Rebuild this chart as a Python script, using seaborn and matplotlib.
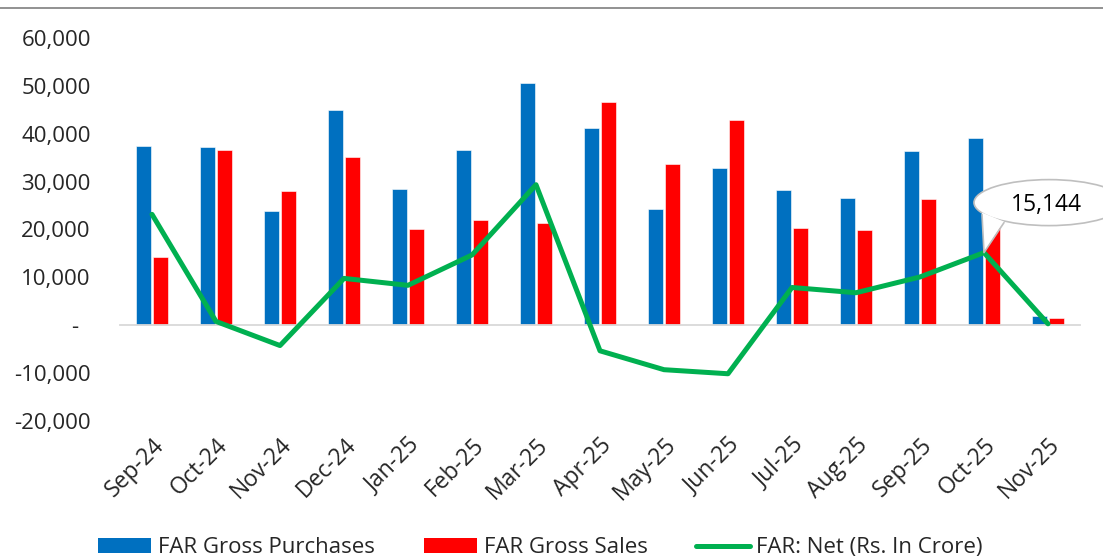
import numpy as np
import pandas as pd
import seaborn as sns
import matplotlib.pyplot as plt
import matplotlib.transforms as mtransforms
from matplotlib.patches import Ellipse, Polygon, Patch
from matplotlib.lines import Line2D
from matplotlib.ticker import FuncFormatter

# data (Rs. crore)
months = ['Sep-24', 'Oct-24', 'Nov-24', 'Dec-24', 'Jan-25', 'Feb-25', 'Mar-25', 'Apr-25',
          'May-25', 'Jun-25', 'Jul-25', 'Aug-25', 'Sep-25', 'Oct-25', 'Nov-25']
gross_purchases = [37400, 37250, 23750, 44950, 28350, 36550, 50650, 41300,
                   24250, 32750, 28200, 26500, 36450, 39050, 1950]
gross_sales = [14300, 36550, 27950, 35150, 20050, 21900, 21300, 46650,
               33600, 42900, 20350, 19800, 26350, 23900, 1550]
net = [23150, 750, -4300, 9750, 8300, 14650, 29350, -5400,
       -9350, -10200, 7850, 6750, 10050, 15144, 250]
series_names = ['FAR Gross Purchases', 'FAR Gross Sales']
net_name = 'FAR: Net (Rs. In Crore)'
callout_label = '15,144'

BLUE = '#0070C0'
RED = '#FF0000'
GREEN = '#00B050'

sns.set_style("white")
plt.rcParams['font.family'] = ['Open Sans', 'DejaVu Sans']

df = pd.DataFrame({
    'month': months * 2,
    'series': [series_names[0]] * len(months) + [series_names[1]] * len(months),
    'value': gross_purchases + gross_sales,
})

fig = plt.figure(figsize=(11.03, 5.6), dpi=100)
ax = fig.add_axes([120 / 1103, 1 - 420.6 / 560, 960 / 1103, (420.6 - 38.2) / 560])

sns.barplot(data=df, x='month', y='value', hue='series', hue_order=series_names,
            palette=[BLUE, RED], saturation=1, width=0.53, gap=0.06,
            edgecolor='white', linewidth=0.4, legend=False, ax=ax)
pos = np.arange(len(months))
sns.lineplot(x=pos, y=net, color=GREEN, linewidth=3.6, ax=ax, zorder=5)

ax.set_xlim(-0.5, len(months) - 0.5)
ax.set_ylim(-20000, 60000)
ax.set_yticks(np.arange(-20000, 60001, 10000))
ax.yaxis.set_major_formatter(FuncFormatter(lambda v, p: '-  ' if v == 0 else f'{v:,.0f}'))
ax.tick_params(axis='y', length=0, pad=21, labelsize=16)
ax.set_xlabel('')
ax.set_ylabel('')

for s in ['left', 'right', 'top']:
    ax.spines[s].set_visible(False)
ax.spines['bottom'].set_position(('data', 0))
ax.spines['bottom'].set_color('#D9D9D9')
ax.spines['bottom'].set_linewidth(1.3)
ax.spines['bottom'].set_zorder(1)

# category boundary ticks on the zero line
ax.set_xticks(pos, labels=[''] * len(months))
ax.tick_params(axis='x', which='major', length=0)
ax.set_xticks(np.arange(len(months) + 1) - 0.5, minor=True)
ax.tick_params(axis='x', which='minor', length=6, width=1.3, color='#D9D9D9', direction='out')

# month labels at the bottom of the plot area
sec = ax.secondary_xaxis('bottom')
sec.set_xticks(pos, labels=months)
sec.tick_params(length=0, pad=9, labelsize=16.5)
for lab in sec.get_xticklabels():
    lab.set_rotation(45)
    lab.set_ha('right')
    lab.set_va('top')
    lab.set_rotation_mode('anchor')
sec.spines['bottom'].set_visible(False)

# speech bubble callout for the latest net value
i = len(months) - 2
anchor = mtransforms.ScaledTranslation(pos[i], net[i], ax.transData)
tr = mtransforms.Affine2D() + anchor
bubble = Ellipse((65, 50), 150, 46, transform=tr, facecolor='white',
                 edgecolor='#BFBFBF', linewidth=1.2, clip_on=False, zorder=8)
ax.add_patch(bubble)
tail = Polygon([(-2, 40), (20, 31), (0, 0)], closed=True, transform=tr, facecolor='white',
               edgecolor='none', clip_on=False, zorder=9)
ax.add_patch(tail)
ax.add_line(Line2D([-2, 0, 20], [38, 0, 30], transform=tr, color='#BFBFBF',
                   linewidth=1.2, clip_on=False, zorder=9))
ax.annotate(callout_label, xy=(pos[i], net[i]), xytext=(62 * 0.72, 48 * 0.72),
            textcoords='offset points', ha='center', va='center', fontsize=16.5,
            color='black', zorder=10, annotation_clip=False)

# rule at top of the panel
fig.add_artist(Line2D([0, 1], [1 - 8 / 560, 1 - 8 / 560], transform=fig.transFigure,
                      color='#7F7F7F', linewidth=1.2))

handles = [Patch(facecolor=BLUE, edgecolor='none', label=series_names[0]),
           Patch(facecolor=RED, edgecolor='none', label=series_names[1]),
           Line2D([0], [0], color=GREEN, linewidth=3.6, label=net_name)]
fig.legend(handles=handles, loc='center', bbox_to_anchor=(0.49, 0.022), ncol=3,
           frameon=False, fontsize=16, handlelength=2.4, handleheight=0.65,
           handletextpad=0.3, columnspacing=2.2)

fig.savefig('out.png', dpi=100)
